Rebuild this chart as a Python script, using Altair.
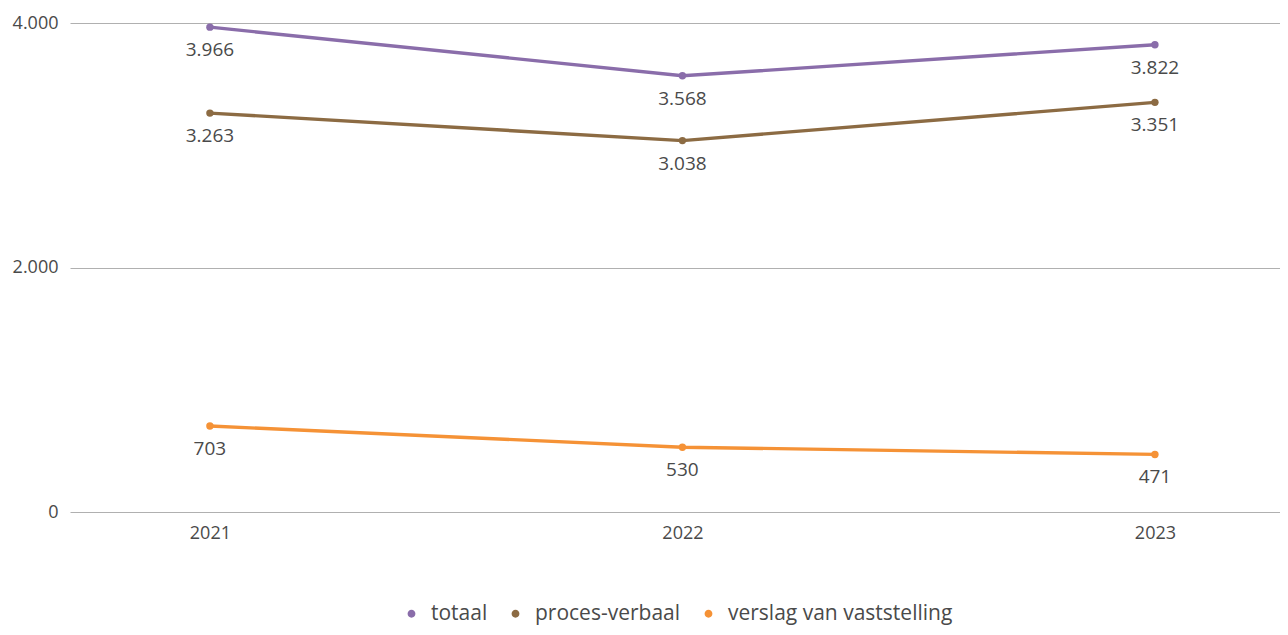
import altair as alt
import pandas as pd

years = ["2021", "2022", "2023"]
series = ["totaal", "proces-verbaal", "verslag van vaststelling"]
totaal = [3966, 3568, 3822]
proces_verbaal = [3263, 3038, 3351]
verslag = [703, 530, 471]
colors = ["#8a6daa", "#8c6b43", "#f59236"]

rows = []
for s, vals in zip(series, [totaal, proces_verbaal, verslag]):
    for y, v in zip(years, vals):
        rows.append({"jaar": y, "reeks": s, "waarde": v,
                     "label": f"{v:,}".replace(",", ".")})
df = pd.DataFrame(rows)

FONT = "Open Sans"
TXT = "#4a4a4a"

x = alt.X("jaar:O", title=None,
          scale=alt.Scale(type="point", padding=0.2804, align=0.528),
          axis=alt.Axis(labelAngle=0, ticks=False, domain=False, grid=False,
                        labelFontSize=18, labelColor=TXT, labelFont=FONT,
                        labelPadding=12))
y = alt.Y("waarde:Q", title=None,
          scale=alt.Scale(domain=[0, 4000], nice=False),
          axis=alt.Axis(values=[0, 2000, 4000], ticks=False, domain=False,
                        gridColor="#b0b0b0", gridWidth=1,
                        labelFontSize=18, labelColor=TXT, labelFont=FONT,
                        labelPadding=12,
                        labelExpr="replace(format(datum.value, ','), ',', '.')"))
color = alt.Color("reeks:N", sort=series,
                  scale=alt.Scale(domain=series, range=colors),
                  legend=alt.Legend(title=None, orient="none", direction="horizontal",
                                    legendX=331, legendY=580,
                                    symbolType="circle", symbolSize=40,
                                    labelFontSize=21, labelColor=TXT, labelFont=FONT,
                                    labelLimit=0,
                                    columnPadding=17, symbolOffset=0, labelOffset=9))

base = alt.Chart(df).encode(x=x, y=y, color=color)
lines = base.mark_line(strokeWidth=3.4)
points = base.mark_point(filled=True, size=55, opacity=1)
labels = base.mark_text(dy=23, fontSize=19, font=FONT, color=TXT).encode(
    text="label:N", color=alt.value(TXT))

chart = (lines + points + labels).properties(
    width=1210, height=489,
    autosize=alt.AutoSizeParams(type="none"),
    padding={"left": 62, "top": 15, "right": 0, "bottom": 113},
).configure_view(stroke=None)

chart.save("out.html", embed_options={"renderer": "svg", "actions": False})
